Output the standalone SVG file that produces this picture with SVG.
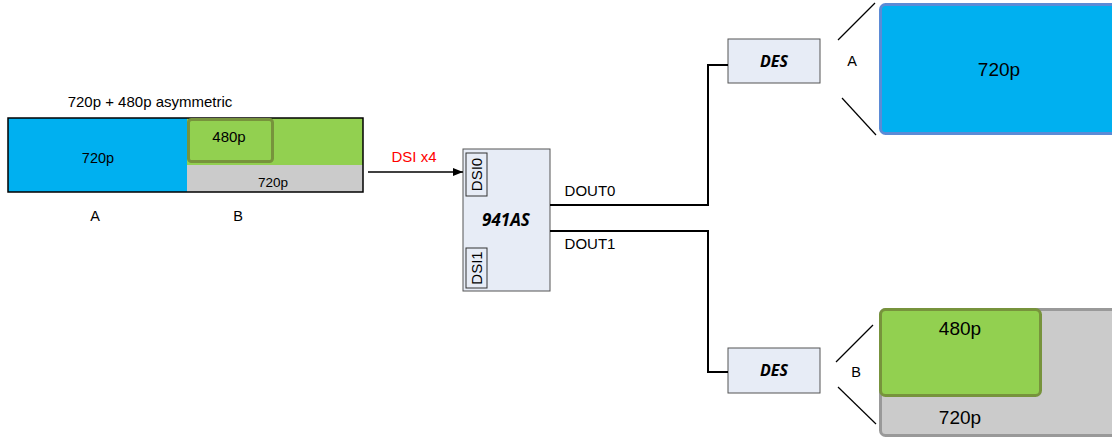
<svg xmlns="http://www.w3.org/2000/svg" width="1112" height="439" viewBox="0 0 1112 439">
<style>
text{font-family:"Liberation Sans",Arial,sans-serif;fill:#000;text-anchor:middle}
.s13{font-size:14.5px}
.s12{font-size:13.5px}
.big{font-size:19px}
.bi{font-family:"Open Sans","Liberation Sans",sans-serif;font-weight:bold;font-style:italic}
.chip{fill:#E7ECF6;stroke:#555;stroke-width:1}
.wire{fill:none;stroke:#000;stroke-width:2}
.thin{fill:none;stroke:#000;stroke-width:1.2}
</style>
<defs>
<marker id="arr" markerWidth="10" markerHeight="8" refX="10" refY="4" orient="auto" markerUnits="userSpaceOnUse">
<path d="M0,0 L10,4 L0,8 Z" fill="#000"/>
</marker>
</defs>

<g id="source">
<text style="font-size:15px" x="150" y="107">720p + 480p asymmetric</text>
<rect x="8" y="118" width="179" height="74" fill="#00B0F0"/>
<rect x="187" y="118" width="176" height="47" fill="#92D050"/>
<rect x="187" y="165" width="176" height="27" fill="#CBCBCB"/>
<rect x="8" y="118" width="355" height="74" fill="none" stroke="#000" stroke-width="1.5"/>
<rect x="188.5" y="119.5" width="84" height="42" rx="3" fill="none" stroke="#77933C" stroke-width="3"/>
<text class="s13" x="98" y="163">720p</text>
<text style="font-size:15px" x="229" y="142">480p</text>
<text class="s12" x="273" y="187">720p</text>
<text class="s13" x="95" y="221">A</text>
<text class="s13" x="238" y="221">B</text>
</g>

<g id="serializer">
<rect class="chip" x="463" y="149" width="87" height="142"/>
<rect x="466" y="153" width="21" height="43" fill="none" stroke="#333" stroke-width="1"/>
<rect x="466" y="248" width="21" height="40" fill="none" stroke="#333" stroke-width="1"/>
<text style="font-size:15px" transform="translate(482,174.5) rotate(-90)">DSI0</text>
<text style="font-size:15px" transform="translate(482,268) rotate(-90)">DSI1</text>
<text class="bi" style="font-size:17px" x="506" y="226">941AS</text>
</g>

<g id="des-a">
<rect class="chip" x="728" y="39" width="92" height="44"/>
<text class="bi" style="font-size:16px" x="774" y="67">DES</text>
</g>

<g id="des-b">
<rect class="chip" x="728" y="348" width="92" height="45"/>
<text class="bi" style="font-size:16px" x="774" y="376">DES</text>
</g>

<g id="display-a">
<line class="thin" x1="838" y1="40" x2="875" y2="3"/>
<line class="thin" x1="842" y1="98" x2="876" y2="135"/>
<text class="s13" x="852" y="66">A</text>
<rect x="880.5" y="4.5" width="240" height="129" rx="5" fill="#00B0F0" stroke="#5B8BD6" stroke-width="3"/>
<text class="big" x="999" y="76">720p</text>
</g>

<g id="display-b">
<line class="thin" x1="836" y1="362" x2="873" y2="325"/>
<line class="thin" x1="838" y1="387" x2="876" y2="424"/>
<text class="s13" x="856" y="377">B</text>
<rect x="880.5" y="309.5" width="240" height="126" rx="5" fill="#CBCBCB" stroke="#999" stroke-width="3"/>
<rect x="880.5" y="309.5" width="160" height="86" rx="5" fill="#92D050" stroke="#77933C" stroke-width="3"/>
<text class="big" x="960" y="335">480p</text>
<text class="big" x="960" y="424">720p</text>
</g>

<g id="connectors">
<line x1="368" y1="172" x2="463" y2="172" stroke="#000" stroke-width="1.5" marker-end="url(#arr)"/>
<text x="414" y="162" style="font-size:15px;fill:#FF0000">DSI x4</text>
<polyline class="wire" points="550,205 708,205 708,65 728,65"/>
<polyline class="wire" points="550,231 708,231 708,372 728,372"/>
<text style="font-size:15px" x="590" y="196">DOUT0</text>
<text style="font-size:15px" x="590" y="249">DOUT1</text>
</g>
</svg>
